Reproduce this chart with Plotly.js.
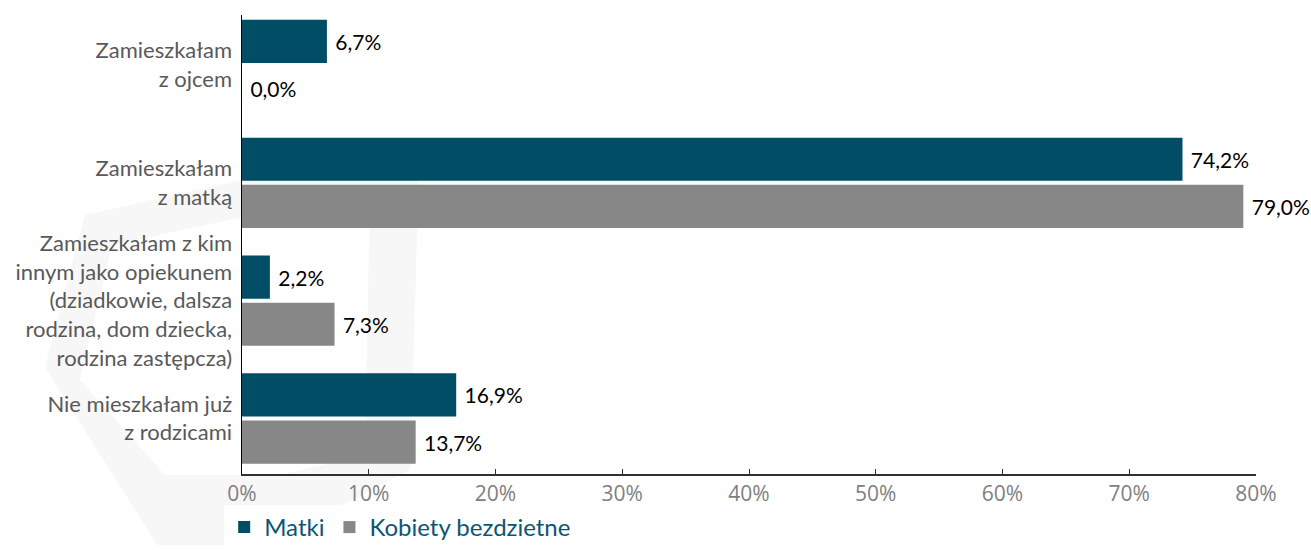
<!DOCTYPE html>
<html>
<head>
<meta charset="utf-8">
<script src="https://cdn.plot.ly/plotly-3.0.1.min.js"></script>
<style>html,body{margin:0;padding:0;background:#fff;}#chart{width:1311px;height:550px;}</style>
</head>
<body>
<div id="chart"></div>
<script>
const categories = [
  "Zamieszkałam<br>z ojcem",
  "Zamieszkałam<br>z matką",
  "Zamieszkałam z kim<br>innym jako opiekunem<br>(dziadkowie, dalsza<br>rodzina, dom dziecka,<br>rodzina zastępcza)",
  "Nie mieszkałam już<br>z rodzicami"
];
const seriesNames = ["Matki", "Kobiety bezdzietne"];
const matki = [6.7, 74.2, 2.2, 16.9];
const bezdzietne = [0.0, 79.0, 7.3, 13.7];
const xTickVals = [0, 10, 20, 30, 40, 50, 60, 70, 80];
const xTickText = xTickVals.map(v => v + "%");

const colors = ["#024d66", "#878787"];
const labelFont = "Lato, 'Open Sans', sans-serif";

function bar(vals, name, color) {
  return {
    type: "bar",
    orientation: "h",
    y: categories,
    x: vals,
    name: name,
    marker: {color: color},
    texttemplate: "\u00a0%{x:.1f}%",
    textposition: "outside",
    cliponaxis: false,
    textfont: {family: labelFont, size: 21, color: "#000"},
    hoverinfo: "skip"
  };
}

// plot-area pixel frame for decoration positioning
const L = 242, R = 1256, T = 15, B = 474;
function px(x, y) { return ((x - L) / (R - L)).toFixed(4) + "," + ((B - y) / (B - T)).toFixed(4); }
function poly(pts) { return "M" + pts.map(p => px(p[0], p[1])).join("L") + "Z"; }
const outer = [[45,367],[85,215],[420,140],[410,470],[265,545],[157,545]];
const inner = [[80,380],[112,245],[370,190],[365,455],[280,475],[165,475]];

const layout = {
  width: 1311, height: 550,
  margin: {l: L, r: 1311 - R, t: T, b: 550 - B, autoexpand: false},
  paper_bgcolor: "#fff",
  plot_bgcolor: "rgba(0,0,0,0)",
  separators: ",.",
  barmode: "group",
  bargap: 0.2,
  bargroupgap: 0.085,
  showlegend: true,
  legend: {
    orientation: "h",
    xref: "container", yref: "container",
    x: 0.171, xanchor: "left",
    y: 0.0, yanchor: "bottom",
    font: {family: labelFont, size: 24, color: "#0b5673"},
    itemwidth: 30,
    traceorder: "normal",
    tracegroupgap: 0
  },
  xaxis: {
    range: [0, 80],
    tickvals: xTickVals,
    ticktext: xTickText,
    showgrid: false,
    zeroline: false,
    showline: true,
    linecolor: "#303030",
    linewidth: 1.5,
    ticks: "inside",
    ticklen: 5,
    tickcolor: "#303030",
    tickfont: {family: "'Open Sans', sans-serif", size: 21, color: "#808080"},
    fixedrange: true
  },
  yaxis: {
    type: "category",
    range: [3.471, -0.424],
    showgrid: false,
    zeroline: false,
    showline: true,
    linecolor: "#000",
    linewidth: 1.5,
    ticks: "",
    ticklabelstandoff: 4,
    tickfont: {family: labelFont, size: 22, color: "#595959"},
    fixedrange: true
  },
  shapes: [{
    type: "path",
    xref: "paper", yref: "paper",
    path: poly(outer) + poly(inner),
    fillrule: "evenodd",
    fillcolor: "#f7f7f7",
    line: {width: 0},
    layer: "below"
  }]
};

Plotly.newPlot("chart", [bar(matki, seriesNames[0], colors[0]), bar(bezdzietne, seriesNames[1], colors[1])], layout, {staticPlot: true});
</script>
</body>
</html>
